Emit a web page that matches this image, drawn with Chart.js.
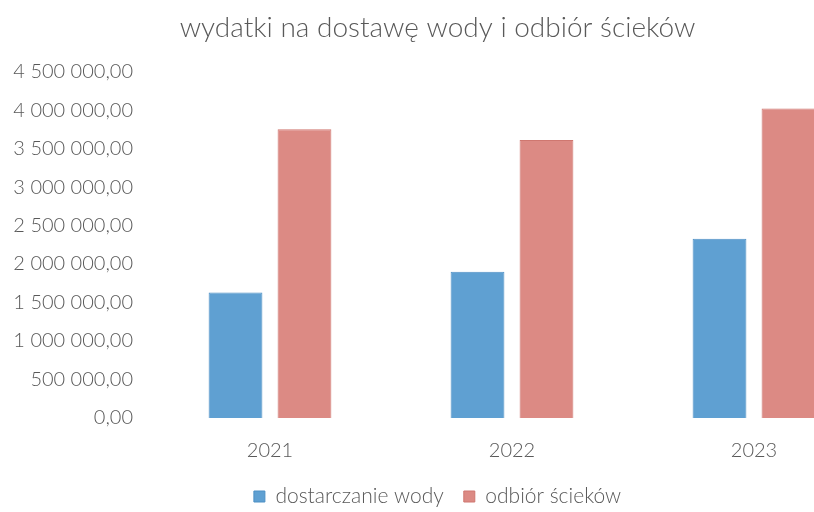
<!DOCTYPE html>
<html>
<head>
<meta charset="utf-8">
<script src="https://cdn.jsdelivr.net/npm/chart.js@4"></script>
<style>
    html, body { margin: 0; padding: 0; overflow: hidden; background: #fff; }
    #wrap { width: 900px; height: 512px; }
</style>
</head>
<body>
<div id="wrap"><canvas id="waterChart"></canvas></div>
<script>
const years = ['2021', '2022', '2023'];
const waterSupply = [1630000, 1900000, 2330000];
const sewageDisposal = [3750000, 3610000, 4020000];
const yTicks = [0, 500000, 1000000, 1500000, 2000000, 2500000, 3000000, 3500000, 4000000, 4500000];

// "4 500 000,00" style, Polish grouping
function plNumber(v) {
    const parts = v.toFixed(2).split('.');
    const whole = parts[0].replace(/\B(?=(\d{3})+(?!\d))/g, ' ');
    return whole + ',' + parts[1];
}

const grey = '#595959';
const font = 'Lato, "Open Sans", sans-serif';

new Chart(document.getElementById('waterChart'), {
    type: 'bar',
    data: {
        labels: years,
        datasets: [{
            label: 'dostarczanie wody',
            data: waterSupply,
            backgroundColor: '#5fa0d2',
            borderColor: '#4d8fc4',
            borderWidth: 1,
            barPercentage: 0.78,
            categoryPercentage: 0.57
        }, {
            label: 'odbiór ścieków',
            data: sewageDisposal,
            backgroundColor: '#dc8a84',
            borderColor: '#cf7770',
            borderWidth: 1,
            barPercentage: 0.78,
            categoryPercentage: 0.57
        }]
    },
    options: {
        responsive: true,
        maintainAspectRatio: false,
        animation: false,
        layout: { padding: { left: 0, right: 25, top: 0, bottom: 0 } },
        plugins: {
            title: {
                display: true,
                text: 'wydatki na dostawę wody i odbiór ścieków',
                color: grey,
                font: { family: font, size: 28, weight: 300 },
                padding: { top: 11, bottom: 27 }
            },
            legend: {
                position: 'bottom',
                maxHeight: 46,
                labels: {
                    color: grey,
                    font: { family: font, size: 21, weight: 300 },
                    boxWidth: 11,
                    boxHeight: 11,
                    padding: 20
                }
            },
            tooltip: { enabled: false }
        },
        scales: {
            x: {
                grid: { display: false },
                border: { display: false },
                ticks: { color: grey, font: { family: font, size: 20, weight: 300 }, padding: 13 },
                afterFit: function (scale) { scale.height = 48; }
            },
            y: {
                min: 0,
                max: 4500000,
                grid: { display: false },
                border: { display: false },
                afterFit: function (scale) { scale.width = 149; },
                afterBuildTicks: function (scale) {
                    scale.ticks = yTicks.map(v => ({ value: v }));
                },
                ticks: {
                    color: grey,
                    font: { family: font, size: 20, weight: 300 },
                    padding: 8,
                    callback: function (value) { return plNumber(value); }
                }
            }
        }
    }
});
</script>
</body>
</html>
